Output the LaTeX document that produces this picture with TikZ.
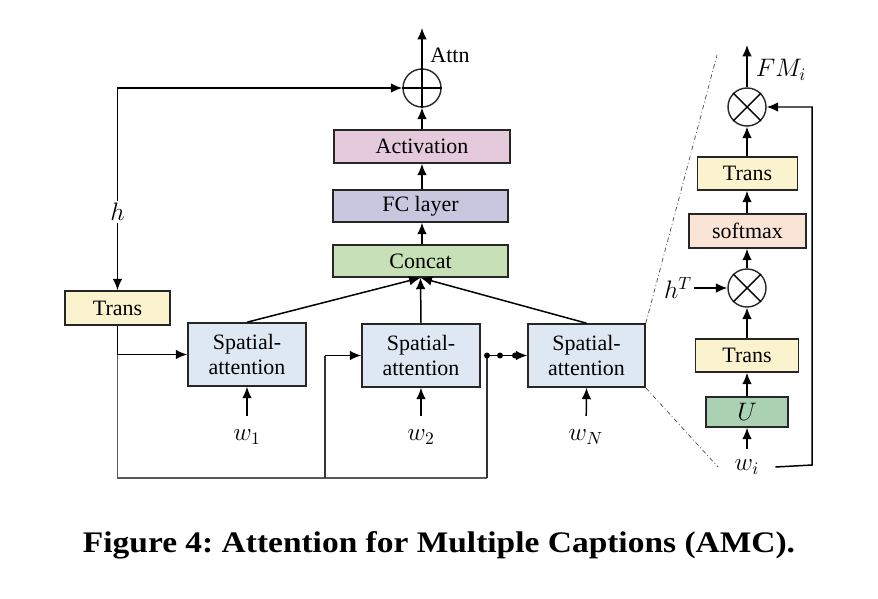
\documentclass[tikz,border=0pt]{standalone}
\usepackage{fontspec}
\setmainfont{Liberation Serif}
\newfontfamily\capfont[FakeStretch=1.12]{Liberation Serif}
\usetikzlibrary{arrows.meta,calc}
\definecolor{cTrans}{RGB}{251,243,205}
\definecolor{cAct}{RGB}{229,202,219}
\definecolor{cFC}{RGB}{200,199,223}
\definecolor{cConcat}{RGB}{200,224,181}
\definecolor{cSA}{RGB}{221,232,242}
\definecolor{cSoft}{RGB}{250,228,214}
\definecolor{cU}{RGB}{170,210,178}
\begin{document}
\begin{tikzpicture}[x=0.02cm,y=-0.02cm,
  box/.style={draw=black!85,line width=0.9pt,inner sep=0pt,font=\fontsize{12.5}{14.7}\selectfont,align=center},
  opcirc/.style={draw=black!85,line width=0.8pt,circle,minimum size=38*0.02cm,inner sep=0pt},
  arr/.style={line width=0.85pt,-{Latex[length=6.5pt,width=5.5pt]}},
  ln/.style={line width=0.8pt},
  thin/.style={draw=black!65,line width=0.6pt},
  lbl/.style={font=\fontsize{14}{16}\selectfont,inner sep=1pt},
  dd/.style={draw=black!70,line width=0.4pt,dash pattern=on 2.5pt off 1.5pt on 0.5pt off 1.5pt}]
\useasboundingbox (0,0) rectangle (878,598);
% main column
\node[opcirc] (plus) at (422,88) {};
\draw[line width=0.8pt] (plus.north) -- (plus.south) (plus.west) -- (plus.east);
\node[box,fill=cAct,minimum width=176*0.02cm,minimum height=33*0.02cm] (act) at (422,146.5) {Activation};
\node[box,fill=cFC,minimum width=175*0.02cm,minimum height=32*0.02cm] (fc) at (420.5,206) {FC layer};
\node[box,fill=cConcat,minimum width=175*0.02cm,minimum height=32*0.02cm] (concat) at (420.5,261) {Concat};
\coordinate (top) at (422,28);
\node[box,draw=none,fill=none] (attn) at (450,55) {Attn};
\draw[arr] (plus.north) -- (top);
\draw[arr] (act.north -| plus) -- (plus.south);
\draw[arr] (fc.north -| plus) -- (act.south -| plus);
\draw[arr] (concat.north -| plus) -- (fc.south -| plus);
% left
\node[box,fill=cTrans,minimum width=105*0.02cm,minimum height=34*0.02cm] (transL) at (117.5,308) {Trans};
\node[lbl] (h) at (117.5,212) {$h$};
\coordinate (corner) at (117.5,88);
\draw[arr] (h) -- (corner) -- (plus.west);
\draw[arr] (h) -- (transL.north);
% spatial attention
\node[box,fill=cSA,minimum width=118*0.02cm,minimum height=63*0.02cm] (sa1) at (247,354.5) {Spatial-\\attention};
\node[box,fill=cSA,minimum width=118*0.02cm,minimum height=63*0.02cm] (sa2) at (421,355.5) {Spatial-\\attention};
\node[box,fill=cSA,minimum width=117*0.02cm,minimum height=63*0.02cm] (sa3) at (586.5,355.5) {Spatial-\\attention};
\draw[arr] (sa1.north) -- (concat.south);
\draw[arr] (sa2.north) -- (concat.south);
\draw[arr] (sa3.north) -- (concat.south);
% w labels
\node[lbl] (w1) at (247,437) {$w_1$};
\node[lbl] (w2) at (421,437) {$w_2$};
\node[lbl] (wN) at (586,437) {$w_N$};
\draw[arr,shorten <=12pt] (w1.center) -- (sa1.south);
\draw[arr,shorten <=12pt] (w2.center) -- (sa2.south);
\draw[arr,shorten <=12pt] (wN.center) -- (sa3.south);
% bottom wiring
\coordinate (j1) at (117.5,354.5);
\coordinate (b1) at (117.5,478);
\coordinate (b2) at (325,478);
\coordinate (b3) at (487,478);
\coordinate (k2) at (325,355.5);
\coordinate (k3) at (487,355.5);
\draw[arr] (transL.south) -- (j1) -- (sa1.west);
\draw[thin] (j1) -- (b1) -- (b3);
\draw[ln,draw=black!80] (b2) -- (k2);
\draw[arr] (k2) -- (sa2.west);
\draw[ln,draw=black!80] (b3) -- (k3);
\draw[arr] (k3) -- (sa3.west);
\fill (k3) circle (1.7pt);
\fill (500,355.5) circle (1.7pt);
\fill (515,355.5) circle (1.7pt);
% zoom lines
\coordinate (zt) at (717,55);
\coordinate (zb) at (718,467);
\draw[dd] (sa3.north east) -- (zt);
\draw[dd] (sa3.south east) -- (zb);
% right panel
\node[opcirc] (m1) at (747,107) {};
\draw[line width=0.8pt] (m1.north west) -- (m1.south east) (m1.north east) -- (m1.south west);
\node[box,fill=cTrans,minimum width=100*0.02cm,minimum height=33*0.02cm] (transR1) at (747.5,173.5) {Trans};
\node[box,fill=cSoft,minimum width=117*0.02cm,minimum height=34*0.02cm] (soft) at (747.5,231) {softmax};
\node[opcirc] (m2) at (747,288) {};
\draw[line width=0.8pt] (m2.north west) -- (m2.south east) (m2.north east) -- (m2.south west);
\node[box,fill=cTrans,minimum width=103*0.02cm,minimum height=33*0.02cm] (transR2) at (747,355.5) {Trans};
\node[box,fill=cU,minimum width=82*0.02cm,minimum height=30*0.02cm] (U) at (747,412) {\fontsize{14}{16}\selectfont$U$};
\node[lbl] (wi) at (747,467) {$w_i$};
\node[lbl] (hT) at (678,288) {$h^T$};
\node[lbl] (FM) at (781,70) {$FM_i$};
\coordinate (rtop) at (747,45);
\coordinate (fr1) at (812,465);
\coordinate (fr2) at (812,107);
\draw[arr] (m1.north) -- (rtop);
\draw[arr] (transR1.north -| m1) -- (m1.south);
\draw[arr] (soft.north -| m1) -- (transR1.south -| m1);
\draw[arr] (m2.north) -- (soft.south -| m2);
\draw[arr] (transR2.north -| m2) -- (m2.south);
\draw[arr] (U.north) -- (transR2.south -| U);
\draw[arr,shorten <=10pt] (wi.center) -- (U.south);
\draw[arr] (hT) -- (m2.west);
\draw[arr] (wi.east) ++(8pt,0) coordinate (wiE) (wiE) -- (fr1) -- (fr2) -- (m1.east);
% caption
\node[font=\capfont\fontsize{17}{19}\selectfont\bfseries\frenchspacing] (cap) at (439,545) {Figure 4: Attention for Multiple Captions (AMC).};
\end{tikzpicture}
\end{document}
